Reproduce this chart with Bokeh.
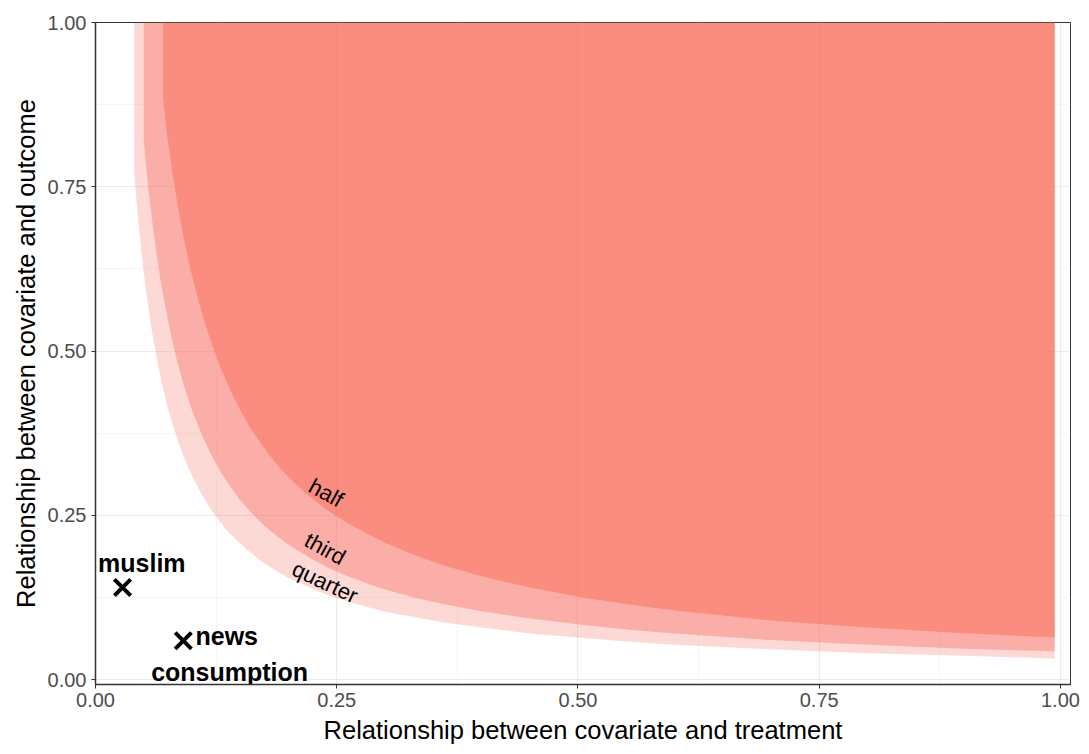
from bokeh.plotting import figure
from bokeh.models import Range1d, FixedTicker, NumeralTickFormatter, ColumnDataSource
from bokeh.core.properties import value
from bokeh.embed import file_html
from bokeh.resources import INLINE

# Contours: share of the effect removed by a confounder of given strength
half_x = [0.070, 0.0725, 0.075, 0.0775, 0.08, 0.0825, 0.085, 0.0875, 0.09, 0.095, 0.10, 0.105, 0.11,
          0.115, 0.12, 0.13, 0.14, 0.15, 0.16, 0.17, 0.18, 0.19, 0.20, 0.22, 0.24, 0.26, 0.28, 0.30,
          0.33, 0.36, 0.40, 0.45, 0.50, 0.55, 0.60, 0.70, 0.80, 0.90, 0.994]
half_y = [0.886, 0.848, 0.820, 0.794, 0.769, 0.745, 0.724, 0.703, 0.683, 0.647, 0.615, 0.586, 0.559,
          0.535, 0.513, 0.473, 0.439, 0.410, 0.384, 0.362, 0.342, 0.324, 0.308, 0.281, 0.258, 0.239, 0.223, 0.208,
          0.190, 0.174, 0.157, 0.140, 0.126, 0.115, 0.105, 0.090, 0.079, 0.0705, 0.064]

third_x = [0.050, 0.0525, 0.055, 0.0575, 0.06, 0.0625, 0.065, 0.0675, 0.07, 0.075, 0.08, 0.085, 0.09,
           0.095, 0.10, 0.11, 0.12, 0.13, 0.14, 0.15, 0.16, 0.17, 0.18, 0.19, 0.20, 0.22, 0.24, 0.26,
           0.28, 0.30, 0.33, 0.36, 0.40, 0.45, 0.50, 0.55, 0.60, 0.70, 0.80, 0.90, 0.994]
third_y = [0.820, 0.781, 0.745, 0.713, 0.683, 0.656, 0.631, 0.607, 0.586, 0.547, 0.513, 0.482, 0.456,
           0.432, 0.410, 0.373, 0.342, 0.315, 0.293, 0.273, 0.256, 0.241, 0.228, 0.216, 0.205, 0.187, 0.171, 0.158,
           0.147, 0.137, 0.125, 0.115, 0.104, 0.093, 0.084, 0.076, 0.070, 0.060, 0.053, 0.047, 0.043]

quarter_x = [0.040, 0.0425, 0.045, 0.0475, 0.05, 0.0525, 0.055, 0.0575, 0.06, 0.065, 0.07, 0.075, 0.08,
             0.085, 0.09, 0.095, 0.10, 0.11, 0.12, 0.13, 0.14, 0.15, 0.16, 0.17, 0.18, 0.19, 0.20, 0.22,
             0.24, 0.26, 0.28, 0.30, 0.33, 0.36, 0.40, 0.45, 0.50, 0.55, 0.60, 0.70, 0.80, 0.90, 0.994]
quarter_y = [0.775, 0.729, 0.689, 0.653, 0.620, 0.590, 0.564, 0.539, 0.517, 0.477, 0.443, 0.413, 0.388,
             0.365, 0.344, 0.326, 0.310, 0.282, 0.258, 0.238, 0.221, 0.207, 0.194, 0.182, 0.172, 0.163, 0.155, 0.141,
             0.129, 0.119, 0.111, 0.103, 0.095, 0.087, 0.079, 0.070, 0.064, 0.058, 0.053, 0.046, 0.040, 0.036, 0.032]

contour_names = ["half", "third", "quarter"]
contour_label_x = [0.239, 0.238, 0.238]
contour_label_y = [0.284, 0.199, 0.148]
contour_label_angle = [-0.50, -0.50, -0.44]

# Observed covariates
cov_names = ["muslim", "news consumption"]
cov_x = [0.028, 0.091]
cov_y = [0.140, 0.059]
cov_label_text = ["muslim", "news", "consumption"]
cov_label_x = [0.048, 0.136, 0.139]
cov_label_y = [0.178, 0.066, 0.012]

ticks = [0.0, 0.25, 0.5, 0.75, 1.0]
minor = [0.125, 0.375, 0.625, 0.875]

FONT = "Liberation Sans"
FILL = "#F8766D"

p = figure(width=1089, height=754, output_backend="svg", toolbar_location=None,
           x_range=Range1d(0, 1.0104), y_range=Range1d(-0.0076, 1.0),
           min_border_left=95, min_border_right=19, min_border_top=22, min_border_bottom=70)
p.background_fill_color = "white"
p.border_fill_color = "white"
p.outline_line_color = "#333333"
p.outline_line_width = 1

for ax in (p.xaxis[0], p.yaxis[0]):
    ax.ticker = FixedTicker(ticks=ticks, minor_ticks=minor)
    ax.formatter = NumeralTickFormatter(format="0.00")
    ax.axis_line_color = "#333333"
    ax.axis_line_width = 1.5
    ax.major_tick_line_color = "#333333"
    ax.major_tick_out = 4
    ax.major_tick_in = 0
    ax.minor_tick_out = 0
    ax.minor_tick_in = 0
    ax.major_label_text_font = FONT
    ax.major_label_text_font_size = "20px"
    ax.major_label_text_color = "#4D4D4D"
    ax.axis_label_text_font = FONT
    ax.axis_label_text_font_size = "25.5px"
    ax.axis_label_text_font_style = "normal"
    ax.axis_label_text_color = "black"

p.xaxis.axis_label = "Relationship between covariate and treatment"
p.yaxis.axis_label = "Relationship between covariate and outcome"
p.xaxis.major_label_standoff = 4
p.xaxis.axis_label_standoff = 6
p.yaxis.major_label_standoff = 5
p.yaxis.axis_label_standoff = 5

for g in (p.xgrid[0], p.ygrid[0]):
    g.ticker = FixedTicker(ticks=ticks, minor_ticks=minor)
    g.grid_line_color = "#EBEBEB"
    g.grid_line_width = 1.2
    g.minor_grid_line_color = "#F2F2F2"
    g.minor_grid_line_width = 0.8

# Shaded regions above each contour, stacked lightest first
p.varea(x=quarter_x, y1=quarter_y, y2=[1.0] * len(quarter_x), fill_color=FILL, fill_alpha=0.28)
p.varea(x=third_x, y1=third_y, y2=[1.0] * len(third_x), fill_color=FILL, fill_alpha=0.44)
p.varea(x=half_x, y1=half_y, y2=[1.0] * len(half_x), fill_color="#F97A68", fill_alpha=0.64)

lab_src = ColumnDataSource(dict(x=contour_label_x, y=contour_label_y, text=contour_names,
                                angle=contour_label_angle))
p.text(x="x", y="y", text="text", angle="angle", source=lab_src,
       text_font=value(FONT), text_font_size="22px", text_color="black",
       text_align="center", text_baseline="middle")

p.scatter(x=cov_x, y=cov_y, marker="x", size=23, line_width=4, line_color="black")

cov_src = ColumnDataSource(dict(x=cov_label_x, y=cov_label_y, text=cov_label_text))
p.text(x="x", y="y", text="text", source=cov_src,
       text_font=value(FONT), text_font_size="25px", text_font_style="bold",
       text_color="black", text_align="center", text_baseline="middle")

open("out.html", "w").write(file_html(p, INLINE))
